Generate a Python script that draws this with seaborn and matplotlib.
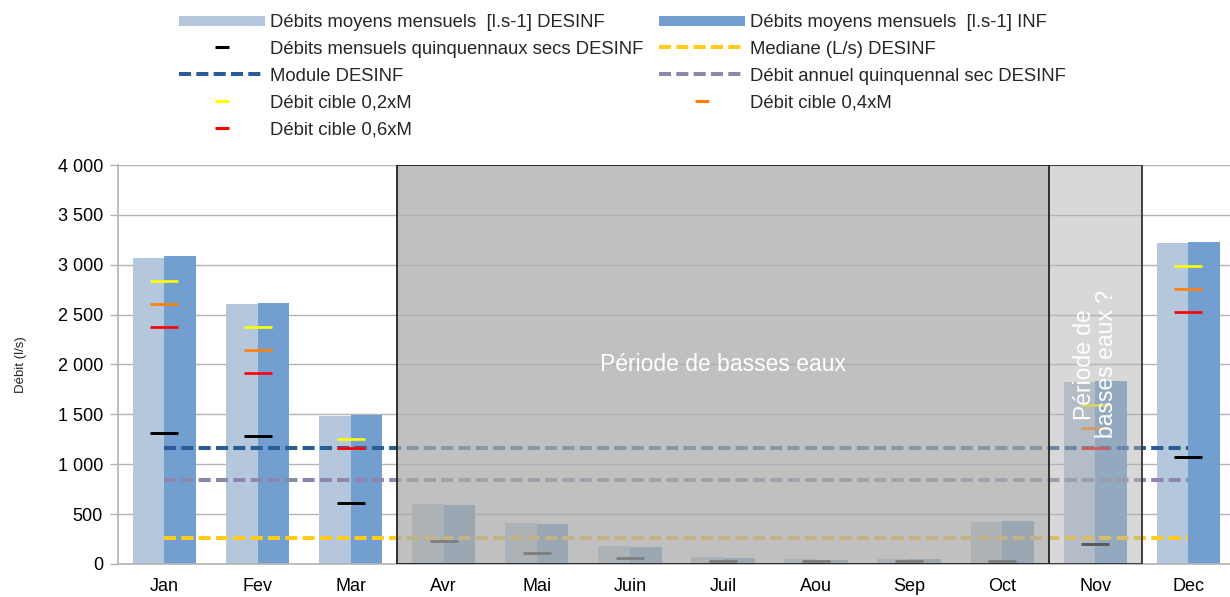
import numpy as np
import pandas as pd
import matplotlib
matplotlib.use("Agg")
import matplotlib.pyplot as plt
from matplotlib.lines import Line2D
from matplotlib.ticker import FuncFormatter
import seaborn as sns

# ---------------- data ----------------
months = ['Jan', 'Fev', 'Mar', 'Avr', 'Mai', 'Juin', 'Juil', 'Aou', 'Sep', 'Oct', 'Nov', 'Dec']
debit_desinf = [3070, 2605, 1485, 600, 414, 180, 73, 50, 50, 424, 1827, 3216]
debit_inf = [3090, 2615, 1493, 591, 401, 170, 63, 40, 50, 434, 1834, 3230]
quinq_secs = [1315, 1283, 608, 230, 113, 57, 30, 27, 27, 30, 197, 1069]
nan = np.nan
cible_02 = [2840, 2375, 1250, nan, nan, nan, nan, nan, nan, nan, 1593, 2983]
cible_04 = [2610, 2147, 1160, nan, nan, nan, nan, nan, nan, nan, 1363, 2753]
cible_06 = [2380, 1914, 1160, nan, nan, nan, nan, nan, nan, nan, 1160, 2522]
module_desinf = 1160
mediane_desinf = 260
annuel_quinq_sec = 840
yticks = [0, 500, 1000, 1500, 2000, 2500, 3000, 3500, 4000]

lab_desinf = 'Débits moyens mensuels  [l.s-1] DESINF'
lab_inf = 'Débits moyens mensuels  [l.s-1] INF'
lab_quinq = 'Débits mensuels quinquennaux secs DESINF'
lab_med = 'Mediane (L/s) DESINF'
lab_mod = 'Module DESINF'
lab_ann = 'Débit annuel quinquennal sec DESINF'
lab_02 = 'Débit cible 0,2xM'
lab_04 = 'Débit cible 0,4xM'
lab_06 = 'Débit cible 0,6xM'

# ---------------- style ----------------
sns.set_style("white")
plt.rcParams['font.family'] = ['Liberation Sans', 'DejaVu Sans']

c_light = '#b4c7dc'
c_dark = '#729fcf'
c_module = '#2a5d96'
c_annual = '#8d86ad'
c_median = '#ffcc1c'
c_y = '#ffff00'
c_o = '#ff8000'
c_r = '#ff0000'
grid_c = '#b3b3b3'

df = pd.DataFrame({
    'mois': months * 2,
    'debit': debit_desinf + debit_inf,
    'serie': [lab_desinf] * len(months) + [lab_inf] * len(months),
})

fig = plt.figure(figsize=(12.3, 5.97), dpi=100)
ax = fig.add_axes([0.0959, 0.0553, 0.9081, 0.6683])

sns.barplot(data=df, x='mois', y='debit', hue='serie', order=months,
            hue_order=[lab_desinf, lab_inf], palette=[c_light, c_dark],
            saturation=1, width=0.68, gap=0, errorbar=None, legend=False,
            linewidth=0, edgecolor='none', ax=ax, zorder=2)

x = np.arange(len(months))
dash = (0, (3, 1.3))
lw_dash = 2.9
ax.plot(x, [module_desinf] * len(x), color=c_module, lw=lw_dash, ls=dash, zorder=3)
ax.plot(x, [annuel_quinq_sec] * len(x), color=c_annual, lw=lw_dash, ls=dash, zorder=3)
ax.plot(x, [mediane_desinf] * len(x), color=c_median, lw=lw_dash, ls=dash, zorder=3)

ms = 20.2
ax.plot(x, cible_02, ls='none', marker='_', ms=ms, mew=1.9, color=c_y, zorder=4)
ax.plot(x, cible_04, ls='none', marker='_', ms=ms, mew=1.9, color=c_o, zorder=4)
ax.plot(x, cible_06, ls='none', marker='_', ms=ms, mew=1.9, color=c_r, zorder=4)
ax.plot(x, quinq_secs, ls='none', marker='_', ms=ms, mew=2.1, color='black', zorder=4)

# low-water periods
ax.axvspan(2.5, 9.5, facecolor='#ababab', alpha=0.75, edgecolor='none', zorder=5)
ax.axvspan(2.5, 9.5, facecolor='none', edgecolor='#222222', lw=1.3, zorder=5.5)
ax.axvspan(9.5, 10.5, facecolor='#b3b3b3', alpha=0.5, edgecolor='none', zorder=5)
ax.axvspan(9.5, 10.5, facecolor='none', edgecolor='#333333', lw=1.3, zorder=5.5)
ax.text(6, 2000, 'Période de basses eaux', color='white', fontsize=16.5,
        ha='center', va='center', zorder=6)
ax.text(10, 2000, 'Période de\nbasses eaux ?', color='white', fontsize=16.5,
        ha='center', va='center', rotation=90, linespacing=0.95,
        multialignment='center', zorder=6)

# axes
ax.set_xlim(-0.5, 11.5)
ax.set_ylim(0, 4000)
ax.set_yticks(yticks)
ax.yaxis.set_major_formatter(FuncFormatter(lambda v, p: f"{int(v):,}".replace(',', ' ')))
ax.grid(axis='y', color=grid_c, lw=1)
ax.set_axisbelow(True)
ax.set_xticks(np.arange(-0.5, 12, 1))
ax.set_xticklabels([])
ax.set_xticks(x, labels=months, minor=True)
ax.tick_params(axis='x', which='major', length=6, color=grid_c, width=1, direction='out')
ax.tick_params(axis='x', which='minor', length=0, pad=10, labelsize=13, labelcolor='black')
ax.tick_params(axis='y', length=5.8, color=grid_c, width=1, pad=5, labelsize=13,
               labelcolor='black', left=True)
for s in ['top', 'right']:
    ax.spines[s].set_visible(False)
for s in ['left', 'bottom']:
    ax.spines[s].set_color(grid_c)
    ax.spines[s].set_linewidth(1.2)
ax.set_xlabel('')
ax.set_ylabel('Débit (l/s)', fontsize=9.5)
ax.yaxis.set_label_coords(-0.0815, 0.5)

# legend (column-major order)
h_desinf = Line2D([], [], color=c_light, lw=7.2, solid_capstyle='butt')
h_inf = Line2D([], [], color=c_dark, lw=7.2, solid_capstyle='butt')
h_quinq = Line2D([], [], color='black', marker='_', ls='none', ms=9.4, mew=2.2)
h_med = Line2D([], [], color=c_median, lw=lw_dash, ls=dash)
h_mod = Line2D([], [], color=c_module, lw=lw_dash, ls=dash)
h_ann = Line2D([], [], color=c_annual, lw=lw_dash, ls=dash)
h_02 = Line2D([], [], color=c_y, marker='_', ls='none', ms=9.4, mew=2.2)
h_04 = Line2D([], [], color=c_o, marker='_', ls='none', ms=9.4, mew=2.2)
h_06 = Line2D([], [], color=c_r, marker='_', ls='none', ms=9.4, mew=2.2)
handles = [h_desinf, h_quinq, h_mod, h_02, h_06, h_inf, h_med, h_ann, h_04]
labels = [lab_desinf, lab_quinq, lab_mod, lab_02, lab_06, lab_inf, lab_med, lab_ann, lab_04]
fig.legend(handles, labels, ncol=2, loc='upper left', bbox_to_anchor=(179 / 1230, 1 - 14 / 597),
           frameon=False, fontsize=13.3, handlelength=4.65, handletextpad=0.27,
           columnspacing=0.85, labelspacing=0.53, borderpad=0, borderaxespad=0)

fig.savefig('out.png', dpi=100)
